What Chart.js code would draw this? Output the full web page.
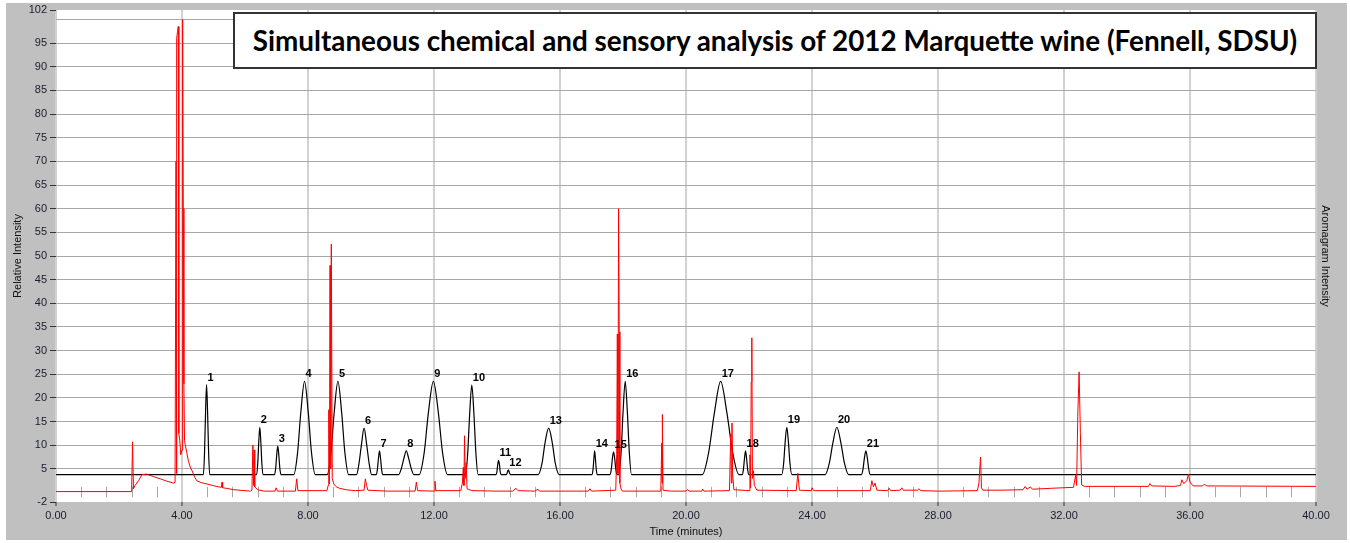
<!DOCTYPE html>
<html>
<head>
<meta charset="utf-8">
<script src="https://cdn.jsdelivr.net/npm/chart.js@4.4.0/dist/chart.umd.min.js"></script>
<style>
	html, body { margin: 0; padding: 0; background: #fff; }
	#marco { position: relative; width: 1350px; height: 543px; }
	#titulo {
		position: absolute; left: 233px; top: 12px; width: 1084px; height: 57px;
		box-sizing: border-box; border: 2px solid #333; background: #fff;
		display: flex; align-items: center; justify-content: center;
		font-family: Lato, 'Open Sans', sans-serif; font-weight: bold; font-size: 26px;
		color: #000; white-space: nowrap;
	}
</style>
</head>
<body>
<div id="marco">
	<canvas id="grafica" width="1350" height="543"></canvas>
	<div id="titulo"><span id="tituloTexto">Simultaneous chemical and sensory analysis of 2012 Marquette wine (Fennell, SDSU)</span></div>
</div>
<script>
// --- DATOS (tiempo en minutos, intensidad relativa) --- //
const yTicks = [-2, 5, 10, 15, 20, 25, 30, 35, 40, 45, 50, 55, 60, 65, 70, 75, 80, 85, 90, 95, 100, 102];

const peakLabels = ['1', '2', '3', '4', '5', '6', '7', '8', '9', '10', '11', '12', '13', '14', '15', '16', '17', '18', '19', '20', '21'];
const peakTimes = [4.78, 6.47, 7.04, 7.89, 8.95, 9.78, 10.27, 11.12, 11.98, 13.2, 14.05, 14.36, 15.64, 17.1, 17.7, 18.07, 21.1, 21.89, 23.2, 24.79, 25.71];
const peakHeights = [22.8, 13.8, 9.8, 23.5, 23.5, 13.6, 8.8, 8.8, 23.5, 22.7, 6.8, 4.8, 13.6, 8.8, 8.6, 23.5, 23.5, 8.8, 13.8, 13.8, 8.8];

// aromagrama (negro)
const aromaTrace = [
	[0, 3.8],
	[4.68, 3.8], [4.715, 8.4], [4.745, 16.3], [4.78, 22.8], [4.815, 16.3], [4.845, 8.4], [4.88, 3.8],
	[6.37, 3.8], [6.405, 6.2], [6.435, 10.4], [6.47, 13.8], [6.505, 10.4], [6.535, 6.2], [6.57, 3.8],
	[6.94, 3.8], [6.975, 5.2], [7.005, 7.8], [7.04, 9.8], [7.075, 7.8], [7.105, 5.2], [7.14, 3.8],
	[7.55, 3.8], [7.67, 8.5], [7.77, 16.8], [7.89, 23.5], [8.01, 16.8], [8.11, 8.5], [8.23, 3.8],
	[8.61, 3.8], [8.73, 8.5], [8.83, 16.8], [8.95, 23.5], [9.07, 16.8], [9.17, 8.5], [9.29, 3.8],
	[9.54, 3.8], [9.62, 6.2], [9.70, 10.3], [9.78, 13.6], [9.86, 10.3], [9.94, 6.2], [10.02, 3.8],
	[10.17, 3.8], [10.205, 5.0], [10.235, 7.1], [10.27, 8.8], [10.305, 7.1], [10.335, 5.0], [10.37, 3.8],
	[10.88, 3.8], [10.96, 5.0], [11.04, 7.1], [11.12, 8.8], [11.20, 7.1], [11.28, 5.0], [11.36, 3.8],
	[11.53, 3.8], [11.69, 8.5], [11.82, 16.8], [11.98, 23.5], [12.14, 16.8], [12.27, 8.5], [12.43, 3.8],
	[13.0, 3.8], [13.07, 8.3], [13.13, 16.3], [13.2, 22.7], [13.27, 16.3], [13.33, 8.3], [13.4, 3.8],
	[13.97, 3.8], [14.0, 4.5], [14.02, 5.8], [14.05, 6.8], [14.08, 5.8], [14.1, 4.5], [14.13, 3.8],
	[14.3, 3.8], [14.33, 4.3], [14.36, 4.8], [14.39, 4.3], [14.42, 3.8],
	[15.31, 3.8], [15.43, 6.2], [15.52, 10.3], [15.64, 13.6], [15.76, 10.3], [15.85, 6.2], [15.97, 3.8],
	[17.02, 3.8], [17.05, 5.0], [17.075, 7.1], [17.1, 8.8], [17.125, 7.1], [17.15, 5.0], [17.18, 3.8],
	[17.59, 3.8], [17.63, 5.0], [17.66, 7.0], [17.7, 8.6], [17.74, 7.0], [17.77, 5.0], [17.81, 3.8],
	[17.87, 3.8], [17.94, 8.5], [18.0, 16.8], [18.07, 23.5], [18.14, 16.8], [18.2, 8.5], [18.27, 3.8],
	[20.52, 3.8], [20.72, 8.5], [20.9, 16.8], [21.1, 23.5], [21.3, 16.8], [21.48, 8.5], [21.68, 3.8],
	[21.79, 3.8], [21.825, 5.0], [21.855, 7.1], [21.89, 8.8], [21.925, 7.1], [21.955, 5.0], [21.99, 3.8],
	[23.04, 3.8], [23.1, 6.2], [23.145, 10.4], [23.2, 13.8], [23.255, 10.4], [23.3, 6.2], [23.36, 3.8],
	[24.42, 3.8], [24.55, 6.2], [24.66, 10.4], [24.79, 13.8], [24.92, 10.4], [25.03, 6.2], [25.16, 3.8],
	[25.57, 3.8], [25.62, 5.0], [25.66, 7.1], [25.71, 8.8], [25.76, 7.1], [25.8, 5.0], [25.85, 3.8],
	[40, 3.8],
];

// cromatograma (rojo)
const chromTrace = [
	[0, 0.2], [2.40, 0.2], [2.43, 10.7], [2.46, 0.8], [2.51, 1.5], [2.62, 2.5], [2.73, 3.8], [2.88, 3.9],
	[3.1, 3.35], [3.31, 2.9], [3.52, 2.4], [3.73, 2.0], [3.78, 2.1], [3.81, 70], [3.82, 4], [3.84, 96],
	[3.86, 97.5], [3.88, 98.5], [3.90, 12.5], [3.93, 11], [3.96, 8], [4.0, 9], [4.02, 100], [4.04, 60],
	[4.06, 23], [4.08, 11], [4.1, 10.2], [4.15, 8.5], [4.2, 6.8], [4.26, 5.4], [4.32, 4.6], [4.4, 3.3],
	[4.47, 2.5], [4.6, 2.1], [4.8, 1.8], [5.0, 1.45], [5.11, 1.27], [5.25, 1.1], [5.27, 2.2], [5.29, 1.0],
	[5.4, 0.9], [5.64, 0.6], [5.9, 0.45], [6.17, 0.3], [6.22, 0.5], [6.25, 10], [6.27, 1.5], [6.29, 9],
	[6.31, 1.2], [6.4, 0.6], [6.6, 0.3], [6.95, 0.3], [6.99, 1.0], [7.03, 0.3], [7.6, 0.3], [7.64, 2.9],
	[7.68, 0.4], [8.6, 0.4], [8.64, 1.5], [8.66, 17.5], [8.68, 1.8], [8.70, 48], [8.72, 5], [8.74, 52.5],
	[8.77, 3], [8.82, 1.8], [8.9, 1.2], [9.0, 0.9], [9.2, 0.6], [9.5, 0.4], [9.78, 0.5], [9.82, 2.9],
	[9.86, 1.5], [9.9, 0.5], [10.5, 0.3], [11.4, 0.3], [11.44, 2.2], [11.48, 0.4], [12.0, 0.3], [12.03, 2.4],
	[12.06, 0.4], [12.85, 0.4], [12.9, 2], [12.93, 5.3], [12.95, 1.5], [12.97, 12], [12.99, 3], [13.02, 6.3],
	[13.05, 0.8], [13.2, 0.4], [14.0, 0.3], [14.5, 0.3], [14.6, 0.9], [14.67, 0.4], [15.2, 0.3], [15.3, 0.7],
	[15.35, 0.3], [16.9, 0.3], [16.95, 0.8], [17.0, 0.3], [17.77, 0.5], [17.80, 8], [17.82, 33.5], [17.84, 4],
	[17.86, 60], [17.88, 34], [17.9, 2], [17.95, 0.5], [18.0, 0.3], [19.2, 0.3], [19.23, 10.5], [19.24, 2],
	[19.25, 16.5], [19.27, 0.5], [19.5, 0.3], [20.0, 0.3], [20.05, 0.6], [20.1, 0.3], [20.5, 0.3], [20.53, 0.7],
	[20.57, 0.3], [21.38, 0.4], [21.42, 12.4], [21.44, 2], [21.46, 14.7], [21.48, 4], [21.52, 0.6], [22.0, 0.4],
	[22.03, 8], [22.05, 1], [22.07, 23.4], [22.09, 32.7], [22.11, 3], [22.14, 4.6], [22.17, 1.5], [22.25, 0.5],
	[23.5, 0.4], [23.55, 4.1], [23.6, 0.5], [23.98, 0.4], [24.0, 1.0], [24.05, 0.4], [25.85, 0.4], [25.9, 2.5],
	[25.95, 1.2], [26.0, 2.0], [26.06, 0.5], [26.4, 0.4], [26.45, 0.9], [26.5, 0.4], [26.8, 0.5], [26.85, 1.0],
	[26.9, 0.5], [27.35, 0.5], [27.4, 0.8], [27.45, 0.4], [28.0, 0.3], [29.25, 0.4], [29.3, 2.0], [29.33, 5.4],
	[29.35, 7.5], [29.38, 1.0], [29.42, 0.5], [30.0, 0.5], [30.7, 0.6], [30.77, 1.3], [30.83, 0.7], [30.93, 1.2],
	[31.0, 0.7], [31.6, 0.9], [32.3, 1.1], [32.37, 3.6], [32.4, 1.5], [32.44, 17], [32.48, 25.5], [32.52, 12.5],
	[32.56, 1.6], [32.65, 1.3], [34.0, 1.3], [34.68, 1.3], [34.73, 1.9], [34.78, 1.4], [35.5, 1.3], [35.7, 1.5],
	[35.74, 2.7], [35.8, 1.9], [35.9, 2.5], [35.95, 3.9], [36.0, 2.2], [36.1, 1.4], [36.4, 1.4], [36.46, 1.8],
	[36.52, 1.4], [40.0, 1.3],
];

(function () {
	const grafica = document.getElementById('grafica');

	// ajustar el titulo al ancho de la caja
	const span = document.getElementById('tituloTexto');
	const ancho = span.getBoundingClientRect().width;
	if (ancho > 0) {
		document.getElementById('titulo').style.fontSize = (26 * 1045 / ancho).toFixed(2) + 'px';
	}

	const fuente = { family: "'Liberation Sans', Arial, sans-serif", size: 11 };

	const fondo = {
		id: 'fondo',
		beforeDraw(chart) {
			const { ctx, chartArea: a } = chart;
			ctx.save();
			ctx.fillStyle = '#fff';
			ctx.fillRect(0, 0, chart.width, chart.height);
			ctx.fillStyle = '#c0c0c0';
			ctx.fillRect(6, 3, 1341, 537);
			ctx.fillStyle = '#fff';
			ctx.fillRect(a.left, a.top, a.right - a.left, a.bottom - a.top);
			ctx.restore();
		},
	};

	// marcas menores del eje x (cada 0.8 min)
	const marcasMenores = {
		id: 'marcasMenores',
		beforeDatasetsDraw(chart) {
			const { ctx, scales } = chart;
			ctx.save();
			ctx.strokeStyle = '#a8a8a8';
			ctx.lineWidth = 1;
			for (let i = 1; i < 50; i++) {
				if (i % 5 === 0) continue;
				const px = Math.round(scales.x.getPixelForValue(i * 0.8)) + 0.5;
				ctx.beginPath();
				ctx.moveTo(px, scales.y.getPixelForValue(-1));
				ctx.lineTo(px, scales.y.getPixelForValue(1.2));
				ctx.stroke();
			}
			ctx.restore();
		},
	};

	// numeros de los picos del aromagrama
	const etiquetas = {
		id: 'etiquetas',
		afterDatasetsDraw(chart) {
			const { ctx, scales } = chart;
			ctx.save();
			ctx.fillStyle = '#000';
			ctx.font = "bold 11px 'Liberation Sans', Arial, sans-serif";
			ctx.textAlign = 'left';
			ctx.textBaseline = 'middle';
			peakLabels.forEach((txt, i) => {
				const px = scales.x.getPixelForValue(peakTimes[i]);
				const py = scales.y.getPixelForValue(peakHeights[i]);
				ctx.fillText(txt, px + 1, py - 7);
			});
			ctx.restore();
		},
	};

	new Chart(grafica, {
		type: 'line',
		data: {
			datasets: [
				{
					label: 'Chromatogram',
					data: chromTrace.map((p) => ({ x: p[0], y: p[1] })),
					borderColor: '#ff0000',
					borderWidth: 1,
					pointRadius: 0,
					tension: 0,
					order: 0,
				},
				{
					label: 'Aromagram',
					data: aromaTrace.map((p) => ({ x: p[0], y: p[1] })),
					borderColor: '#000000',
					borderWidth: 1.2,
					pointRadius: 0,
					cubicInterpolationMode: 'monotone',
					order: 1,
				},
			],
		},
		options: {
			responsive: false,
			animation: false,
			layout: { padding: { top: 10, left: 0, right: 0, bottom: 0 } },
			scales: {
				x: {
					type: 'linear',
					min: 0,
					max: 40,
					afterFit: (s) => { s.height = 41; },
					ticks: {
						stepSize: 4,
						maxRotation: 0,
						padding: 3,
						color: '#1b1b2f',
						font: fuente,
						callback: (v) => Number(v).toFixed(2),
					},
					grid: {
						color: '#d2d2d2',
						lineWidth: 2,
						tickColor: '#333',
						tickWidth: 1,
						tickLength: 4,
					},
					border: { display: false },
					title: {
						display: true,
						text: 'Time (minutes)',
						color: '#111',
						font: fuente,
						padding: { top: 0, bottom: 4 },
					},
				},
				y: {
					min: -2,
					max: 102,
					afterFit: (s) => { s.width = 56; },
					afterBuildTicks: (s) => { s.ticks = yTicks.map((v) => ({ value: v })); },
					ticks: {
						padding: 3,
						color: '#1b1b2f',
						font: fuente,
						callback: (v) => (v === 100 ? '' : String(v)),
					},
					grid: {
						color: (c) => (c.tick && (c.tick.value === -2 || c.tick.value === 102) ? 'rgba(0,0,0,0)' : '#a8a8a8'),
						tickColor: (c) => (c.tick && c.tick.value === 100 ? 'rgba(0,0,0,0)' : '#333'),
						lineWidth: 1,
						tickLength: 6,
					},
					border: { display: false },
					title: {
						display: true,
						text: 'Relative Intensity',
						color: '#111',
						font: fuente,
						padding: { top: 11, bottom: 0 },
					},
				},
				y2: {
					position: 'right',
					min: -2,
					max: 102,
					afterFit: (s) => { s.width = 34; },
					ticks: { display: false },
					grid: { display: false },
					border: { display: false },
					title: {
						display: true,
						text: 'Aromagram Intensity',
						color: '#111',
						font: fuente,
						padding: { top: 18, bottom: 0 },
					},
				},
			},
			plugins: {
				legend: { display: false },
				tooltip: { enabled: false },
			},
		},
		plugins: [fondo, marcasMenores, etiquetas],
	});
})();
</script>
</body>
</html>
